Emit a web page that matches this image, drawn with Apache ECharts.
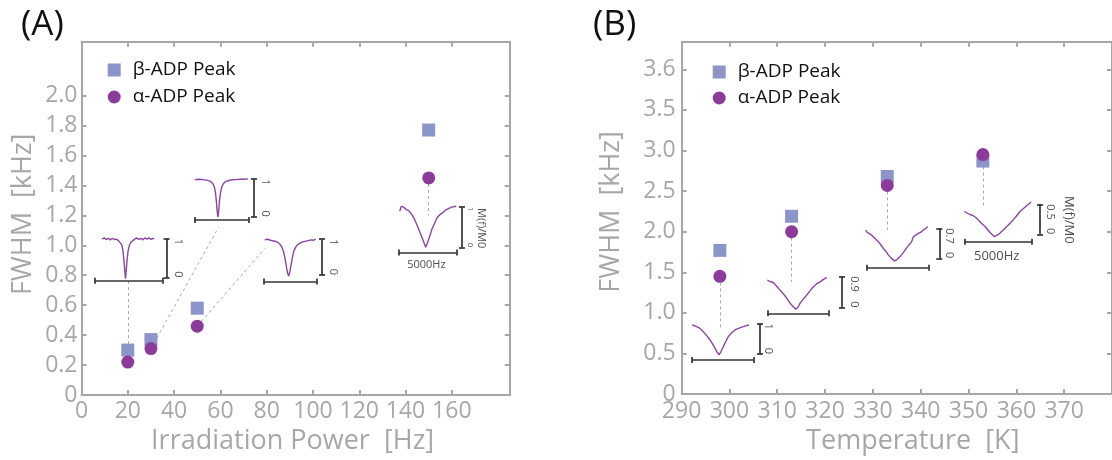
<!DOCTYPE html>
<html>
<head>
<meta charset="utf-8">
<script src="https://cdn.jsdelivr.net/npm/echarts@6/dist/echarts.min.js"></script>
<style>
  html, body { margin: 0; padding: 0; background: #fff; }
  #chart { width: 1112px; height: 460px; }
</style>
</head>
<body>
<div id="chart"></div>
<script>
// ---- Panel A: FWHM vs. irradiation power ----
const powerHz = [20, 30, 50, 150];
const betaA   = [0.30, 0.37, 0.58, 1.77];
const alphaA  = [0.22, 0.31, 0.46, 1.45];

// ---- Panel B: FWHM vs. temperature ----
const tempK  = [298, 313, 333, 353];
const betaB  = [1.77, 2.19, 2.68, 2.87];
const alphaB = [1.45, 2.00, 2.57, 2.95];

// ---- Tick values and labels ----
const xLabelsA = [0, 20, 40, 60, 80, 100, 120, 140, 160];
const xTicksA  = [20, 40, 60, 80, 100, 120, 140, 160];
const yValsA   = [0, 0.2, 0.4, 0.6, 0.8, 1.0, 1.2, 1.4, 1.6, 1.8, 2.0];
const yLabelsA = ['0', '0.2', '0.4', '0.6', '0.8', '1.0', '1.2', '1.4', '1.6', '1.8', '2.0'];
const xLabelsB = [290, 300, 310, 320, 330, 340, 350, 360, 370];
const xTicksB  = [300, 310, 320, 330, 340, 350, 360, 370];
const yValsB   = [0, 0.5, 1.0, 1.5, 2.0, 2.5, 3.0, 3.5, 4.0];
const yLabelsB = ['0', '0.5', '1.0', '1.5', '2.0', '2.5', '3.0', '3.5', '3.6'];

// ---- Inset spectra: [frequency offset (kHz), M(f)/M0] ----
const specA20 = [[-1.95,0.99],[-1.8,1.02],[-1.65,0.98],[-1.5,1.01],[-1.35,0.97],[-1.2,1.01],[-1.05,0.98],[-0.9,0.99],
  [-0.75,0.95],[-0.62,0.91],[-0.5,0.84],[-0.42,0.70],[-0.35,0.46],[-0.29,0.20],[-0.23,-0.03],[-0.17,0.20],[-0.11,0.46],
  [-0.04,0.68],[0.05,0.82],[0.17,0.91],[0.3,0.96],[0.45,0.99],[0.6,1.02],[0.75,0.98],[0.9,1.01],[1.05,0.97],[1.2,1.02],
  [1.35,0.99],[1.5,1.02],[1.65,0.98],[1.8,1.01],[1.87,0.99]];
const specA30 = [[-2.48,0.99],[-2.1,1.0],[-1.7,0.99],[-1.3,0.97],[-1.0,0.94],[-0.8,0.88],[-0.65,0.78],[-0.55,0.62],
  [-0.47,0.40],[-0.4,0.15],[-0.33,-0.01],[-0.26,0.15],[-0.19,0.40],[-0.1,0.62],[0.0,0.77],[0.15,0.87],[0.35,0.93],
  [0.6,0.96],[0.9,0.98],[1.3,0.99],[1.7,1.0],[2.1,1.0],[2.45,1.01]];
const specA50 = [[-2.45,0.98],[-2.2,1.0],[-1.9,0.97],[-1.6,0.95],[-1.3,0.93],[-1.05,0.88],[-0.85,0.80],[-0.65,0.65],
  [-0.5,0.45],[-0.37,0.22],[-0.25,0.04],[-0.16,-0.03],[-0.07,0.06],[0.05,0.25],[0.2,0.50],[0.35,0.68],[0.55,0.80],
  [0.8,0.87],[1.1,0.92],[1.4,0.94],[1.7,0.96],[2.0,0.98],[2.2,0.97],[2.42,1.0]];
const specA150 = [[-2.41,0.89],[-2.27,1.01],[-2.08,0.99],[-1.84,0.93],[-1.65,0.91],[-1.46,0.84],[-1.30,0.78],[-1.11,0.68],
  [-0.91,0.55],[-0.68,0.39],[-0.46,0.23],[-0.24,0.06],[-0.16,0.0],[0.0,0.11],[0.19,0.27],[0.39,0.45],[0.63,0.60],
  [0.82,0.72],[1.06,0.80],[1.26,0.84],[1.43,0.88],[1.63,0.93],[1.82,0.95],[2.07,0.99],[2.26,1.0],[2.5,1.01]];
const specB298 = [[-2.45,0.95],[-2.09,0.90],[-1.83,0.84],[-1.56,0.73],[-1.30,0.61],[-1.01,0.46],[-0.81,0.33],[-0.61,0.19],
  [-0.45,0.07],[-0.28,-0.03],[-0.12,0.08],[0.06,0.24],[0.27,0.41],[0.47,0.57],[0.73,0.69],[1.01,0.79],[1.30,0.84],
  [1.56,0.88],[1.87,0.92],[2.15,0.95]];
const specB313 = [[-2.5,0.79],[-2.28,0.75],[-2.01,0.72],[-1.75,0.62],[-1.46,0.50],[-1.17,0.39],[-0.91,0.27],[-0.70,0.16],
  [-0.50,0.07],[-0.17,-0.05],[0.0,0.0],[0.18,0.12],[0.47,0.25],[0.73,0.36],[1.0,0.48],[1.27,0.60],[1.53,0.68],
  [1.82,0.74],[2.11,0.81],[2.37,0.87]];
const specB333 = [[-2.58,0.66],[-2.48,0.61],[-2.37,0.58],[-2.19,0.56],[-1.96,0.50],[-1.75,0.44],[-1.56,0.39],[-1.34,0.31],
  [-1.15,0.23],[-0.93,0.16],[-0.75,0.08],[-0.53,0.01],[-0.26,-0.06],[-0.04,-0.03],[0.20,0.04],[0.41,0.11],[0.61,0.19],
  [0.89,0.30],[1.15,0.39],[1.28,0.50],[1.42,0.49],[1.69,0.58],[1.91,0.61],[2.09,0.66],[2.27,0.69],[2.45,0.74]];
const specB353 = [[-2.5,0.38],[-2.3,0.355],[-2.08,0.33],[-1.83,0.31],[-1.65,0.28],[-1.46,0.24],[-1.22,0.18],[-0.96,0.13],
  [-0.78,0.08],[-0.59,0.03],[-0.27,-0.04],[-0.07,-0.015],[0.15,0.02],[0.39,0.07],[0.65,0.13],[0.89,0.185],[1.13,0.24],
  [1.37,0.305],[1.63,0.38],[1.89,0.43],[2.13,0.48],[2.30,0.51],[2.45,0.54]];

// ---- Look ----
const FONT = "'Open Sans', sans-serif";
const AXIS_GRAY = '#a7a7a7';
const SQUARE_COLOR = '#8c95c9';
const CIRCLE_COLOR = '#8b3c9b';
const CURVE_COLOR = '#8a45a5';
const BAR_COLOR = '#333333';

// Inset layout: box = [left, top, width, height] in px of the scale bars
// (width spans 5000 Hz, height spans 0..top of M(f)/M0)
const insets = [
  { spec: specA20,  box: [94.7, 238.7, 67.8, 38.8], top: 1,   topLabel: '1',   hbarY: -0.082, vbarX: 2.80, labelX: 3.64, fs: 11 },
  { spec: specA30,  box: [194.5, 179.2, 54.0, 37.5], top: 1,  topLabel: '1',   hbarY: -0.088, vbarX: 3.01, labelX: 4.03, fs: 11 },
  { spec: specA50,  box: [264.2, 239.2, 52.3, 35.8], top: 1,  topLabel: '1',   hbarY: -0.18,  vbarX: 3.03, labelX: 4.11, fs: 11 },
  { spec: specA150, box: [398.7, 206.7, 57.6, 40.6], top: 1,  topLabel: '1',   hbarY: -0.13,  vbarX: 2.99, labelX: 3.72, fs: 8,
    axisName: { x: 4.68, y: 0.47, size: 11 }, freqName: { x: -0.1, y: -0.43, size: 11 } },
  { spec: specB298, box: [691.7, 323.5, 61.6, 30.5], top: 1,   topLabel: '1',   hbarY: -0.2,   vbarX: 3.04, labelX: 3.72, fs: 11 },
  { spec: specB313, box: [767.3, 276.3, 61.0, 31.2], top: 0.9, topLabel: '0.9', hbarY: -0.167, vbarX: 3.62, labelX: 4.64, fs: 11 },
  { spec: specB333, box: [866.7, 228.3, 61.6, 30.0], top: 0.7, topLabel: '0.7', hbarY: -0.22,  vbarX: 3.39, labelX: 4.18, fs: 11 },
  { spec: specB353, box: [964.3, 204.3, 67.4, 30.0], top: 0.5, topLabel: '0.5', hbarY: -0.123, vbarX: 3.12, labelX: 3.90, fs: 11,
    axisName: { x: 5.23, y: 0.24, size: 13 }, freqName: { x: -0.1, y: -0.36, size: 13 } }
];

// Dashed guides from each alpha point to its spectrum (data coordinates)
const guideEndsA = [[20, 0.76], [59.2, 1.12], [79.3, 0.98], [150, 1.20]];
const guideEndsB = [[298, 0.82], [313, 1.38], [333, 2.02], [353, 2.32]];

function labelFmt(vals, labels) {
  return function (v) {
    for (let i = 0; i < vals.length; i++) if (Math.abs(v - vals[i]) < 1e-6) return labels[i];
    return '';
  };
}

function boxAxis(o) {
  return {
    type: 'value', gridIndex: o.grid, position: o.position, min: o.min, max: o.max,
    splitLine: { show: false },
    axisLine: { show: true, onZero: false, lineStyle: { color: AXIS_GRAY, width: 2 } },
    axisTick: { show: true, inside: true, length: 5, customValues: o.ticks, lineStyle: { color: AXIS_GRAY, width: 2 } },
    axisLabel: o.labels ? {
      show: true, customValues: o.labels, formatter: o.fmt || (v => String(v)),
      color: AXIS_GRAY, fontSize: 23, fontFamily: FONT, margin: o.margin
    } : { show: false },
    name: o.name || '', nameLocation: 'middle', nameGap: o.nameGap,
    nameTextStyle: { color: AXIS_GRAY, fontSize: 27, fontFamily: FONT, padding: o.namePad || 0 }
  };
}

const grids = [
  { left: 81.5, top: 41.7, width: 428.2, height: 357.6 },
  { left: 681.6, top: 41.7, width: 450, height: 361.6 }
];
const xAxes = [
  boxAxis({ grid: 0, position: 'bottom', min: 0, max: 185, ticks: xTicksA, labels: xLabelsA, margin: 5,
            name: 'Irradiation Power  [Hz]', nameGap: 33, namePad: [0, 6, 0, 0] }),
  boxAxis({ grid: 0, position: 'top', min: 0, max: 185, ticks: xTicksA }),
  boxAxis({ grid: 1, position: 'bottom', min: 290, max: 380, ticks: xTicksB, labels: xLabelsB, margin: 6,
            name: 'Temperature  [K]', nameGap: 32, namePad: [0, 0, 0, 32] }),
  boxAxis({ grid: 1, position: 'top', min: 290, max: 380, ticks: xTicksB })
];
const yAxes = [
  boxAxis({ grid: 0, position: 'left', min: 0, max: 2.36, ticks: yValsA.slice(1), labels: yValsA,
            fmt: labelFmt(yValsA, yLabelsA), margin: 4, name: 'FWHM  [kHz]', nameGap: 45, namePad: [0, 0, 0, 8] }),
  boxAxis({ grid: 0, position: 'right', min: 0, max: 2.36, ticks: yValsA.slice(1) }),
  boxAxis({ grid: 1, position: 'left', min: 0, max: 4.34, ticks: yValsB.slice(1), labels: yValsB,
            fmt: labelFmt(yValsB, yLabelsB), margin: 6, name: 'FWHM  [kHz]', nameGap: 57, namePad: [0, 0, 0, 12] }),
  boxAxis({ grid: 1, position: 'right', min: 0, max: 4.34, ticks: yValsB.slice(1) })
];

const series = [];

// Main markers and guides
function panelSeries(xi, yi, xs, beta, alpha, ends) {
  series.push({
    type: 'lines', coordinateSystem: 'cartesian2d', xAxisIndex: xi, yAxisIndex: yi, silent: true, z: 2,
    lineStyle: { color: '#aaaaaa', width: 1, type: [3, 3], opacity: 1, curveness: 0 },
    data: xs.map((x, i) => ({ coords: [[x, alpha[i]], ends[i]] }))
  });
  series.push({
    name: 'β-ADP Peak', type: 'scatter', xAxisIndex: xi, yAxisIndex: yi, symbol: 'rect', symbolSize: 13, z: 5,
    itemStyle: { color: SQUARE_COLOR, opacity: 1 }, data: xs.map((x, i) => [x, beta[i]])
  });
  series.push({
    name: 'α-ADP Peak', type: 'scatter', xAxisIndex: xi, yAxisIndex: yi, symbol: 'circle', symbolSize: 13, z: 6,
    itemStyle: { color: CIRCLE_COLOR, opacity: 1 }, data: xs.map((x, i) => [x, alpha[i]])
  });
}
panelSeries(0, 0, powerHz, betaA, alphaA, guideEndsA);
panelSeries(2, 2, tempK, betaB, alphaB, guideEndsB);

// Insets: each gets its own hidden cartesian system, padded so bars and labels stay inside it
insets.forEach((ins) => {
  const t = ins.top, hy = ins.hbarY, vx = ins.vbarX;
  const pxK = ins.box[2] / 5;          // px per kHz
  const pxY = ins.box[3] / t;          // px per unit of M(f)/M0
  const xMin = -3.2;
  const xMax = (ins.axisName ? ins.axisName.x : ins.labelX) + 1.2;
  const yMin = Math.min(hy, ins.freqName ? ins.freqName.y : 0) - 0.25 * t;
  const yMax = t * 1.25;

  const gi = grids.length;
  grids.push({
    left: ins.box[0] + (xMin + 2.5) * pxK,
    top: ins.box[1] - (yMax - t) * pxY,
    width: (xMax - xMin) * pxK,
    height: (yMax - yMin) * pxY
  });
  const xi = xAxes.length, yi = yAxes.length;
  xAxes.push({ type: 'value', gridIndex: gi, min: xMin, max: xMax, show: false });
  yAxes.push({ type: 'value', gridIndex: gi, min: yMin, max: yMax, show: false });

  const cx = 3 / pxK;   // cap half-length in kHz
  const cy = 3 / pxY;   // cap half-length in M(f)/M0

  series.push({
    type: 'line', xAxisIndex: xi, yAxisIndex: yi, data: ins.spec, showSymbol: false, symbol: 'none',
    clip: false, silent: true, z: 3, lineStyle: { color: CURVE_COLOR, width: 1.4 }
  });
  series.push({
    type: 'lines', coordinateSystem: 'cartesian2d', xAxisIndex: xi, yAxisIndex: yi, silent: true, z: 3, clip: false,
    lineStyle: { color: BAR_COLOR, width: 1.7, opacity: 1, curveness: 0 },
    data: [
      { coords: [[-2.5, hy], [2.5, hy]] },
      { coords: [[-2.5, hy - cy], [-2.5, hy + cy]] },
      { coords: [[2.5, hy - cy], [2.5, hy + cy]] },
      { coords: [[vx, 0], [vx, t]] },
      { coords: [[vx - cx, 0], [vx + cx, 0]] },
      { coords: [[vx - cx, t], [vx + cx, t]] }
    ]
  });

  const txt = { show: true, position: 'inside', color: '#222', fontFamily: FONT, verticalAlign: 'middle' };
  const labels = [
    { value: [ins.labelX, t], label: Object.assign({}, txt, { formatter: ins.topLabel, rotate: -90, align: 'left', fontSize: ins.fs }) },
    { value: [ins.labelX, 0], label: Object.assign({}, txt, { formatter: '0', rotate: -90, align: 'right', fontSize: ins.fs }) }
  ];
  if (ins.axisName) labels.push({ value: [ins.axisName.x, ins.axisName.y],
    label: Object.assign({}, txt, { formatter: 'M(f)/M0', rotate: -90, align: 'center', fontSize: ins.axisName.size }) });
  if (ins.freqName) labels.push({ value: [ins.freqName.x, ins.freqName.y],
    label: Object.assign({}, txt, { formatter: '5000Hz', align: 'center', fontSize: ins.freqName.size }) });
  series.push({
    type: 'scatter', xAxisIndex: xi, yAxisIndex: yi, symbolSize: 0, clip: false, silent: true, z: 4,
    data: labels
  });
});

const legendBase = {
  data: ['β-ADP Peak', 'α-ADP Peak'], orient: 'vertical', selectedMode: false,
  itemWidth: 13, itemHeight: 13, padding: 0,
  textStyle: { fontSize: 19, color: '#111', fontFamily: FONT, padding: [0, 0, 0, 7] }
};

const option = {
  animation: false,
  backgroundColor: '#ffffff',
  title: [
    { text: '(A)', left: 21, top: 8, padding: 0, textStyle: { fontSize: 35, fontWeight: 'normal', color: '#111', fontFamily: FONT } },
    { text: '(B)', left: 593, top: 8, padding: 0, textStyle: { fontSize: 35, fontWeight: 'normal', color: '#111', fontFamily: FONT } }
  ],
  legend: [
    Object.assign({}, legendBase, { left: 107.7, top: 60.5, itemGap: 8 }),
    Object.assign({}, legendBase, { left: 712.7, top: 62.5, itemGap: 7 })
  ],
  grid: grids,
  xAxis: xAxes,
  yAxis: yAxes,
  series: series
};

const chart = echarts.init(document.getElementById('chart'), null, { renderer: 'canvas' });
chart.setOption(option);
</script>
</body>
</html>
